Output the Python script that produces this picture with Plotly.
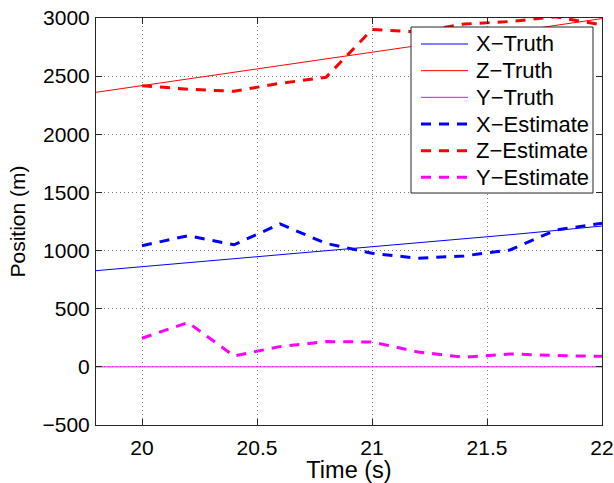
import plotly.graph_objects as go

# Time samples (s)
t_truth = [19.8, 20.0, 20.2, 20.4, 20.6, 20.8, 21.0, 21.2, 21.4, 21.6, 21.8, 22.0]
t_est = [20.0, 20.2, 20.4, 20.6, 20.8, 21.0, 21.2, 21.4, 21.6, 21.8, 22.0]

# True positions (m)
x_truth = [827, 861, 895, 929, 962, 996, 1030, 1065, 1100, 1136, 1173, 1211]
z_truth = [2361, 2418, 2474, 2530, 2587, 2645, 2705, 2762, 2820, 2878, 2937, 2995]
y_truth = [0, 0, 0, 0, 0, 0, 0, 0, 0, 0, 0, 0]

# Estimated positions (m)
x_est = [1042, 1128, 1050, 1229, 1062, 977, 934, 954, 1005, 1177, 1235]
z_est = [2418, 2387, 2370, 2438, 2490, 2901, 2880, 2948, 2970, 3010, 2940]
y_est = [246, 382, 94, 174, 217, 214, 128, 82, 111, 97, 91]

BLUE = "#0000FF"
RED = "#FF0000"
MAGENTA = "#FF00FF"
FONT = "Liberation Sans, Arial, Helvetica, sans-serif"
DASH = "10px,8px"

series = [
    ("X\u2212Truth", t_truth, x_truth, BLUE, 1, "solid"),
    ("Z\u2212Truth", t_truth, z_truth, RED, 1, "solid"),
    ("Y\u2212Truth", t_truth, y_truth, MAGENTA, 1, "solid"),
    ("X\u2212Estimate", t_est, x_est, BLUE, 3, DASH),
    ("Z\u2212Estimate", t_est, z_est, RED, 3, DASH),
    ("Y\u2212Estimate", t_est, y_est, MAGENTA, 3, DASH),
]

W, H = 614, 483
ML, MR, MT, MB = 96, 12, 18, 58
PW, PH = W - ML - MR, H - MT - MB


def px_x(p):
    return (p - ML) / PW


def px_y(p):
    return (H - MB - p) / PH


fig = go.Figure()
for name, tx, vals, color, width, dash in series:
    fig.add_trace(go.Scatter(x=tx, y=vals, mode="lines", name=name, showlegend=False,
                             line=dict(color=color, width=width, dash=dash)))

# Compact boxed legend in the upper right of the axes
shapes = [dict(type="rect", xref="paper", yref="paper", layer="above",
               x0=px_x(411), x1=px_x(593), y0=px_y(193), y1=px_y(27),
               fillcolor="white", line=dict(color="#262626", width=1))]
annotations = []
row0, row_step = 44.0, 26.67
for i, (name, _, _, color, width, dash) in enumerate(series):
    yy = px_y(row0 + i * row_step)
    shapes.append(dict(type="line", xref="paper", yref="paper", layer="above",
                       x0=px_x(421), x1=px_x(468), y0=yy, y1=yy,
                       line=dict(color=color, width=width, dash=dash)))
    annotations.append(dict(xref="paper", yref="paper", x=px_x(474), y=yy,
                            xanchor="left", yanchor="middle", showarrow=False,
                            text=name, font=dict(family=FONT, size=22, color="black")))

axis_common = dict(
    showline=True, linecolor="#262626", linewidth=1, mirror="ticks",
    ticks="inside", ticklen=6, tickcolor="#262626", tickwidth=1,
    showgrid=True, gridcolor="#7a7a7a", gridwidth=1, griddash="1px,3px",
    zeroline=False, automargin=False,
    tickfont=dict(family=FONT, size=21, color="black"),
)

fig.update_layout(
    width=W, height=H,
    margin=dict(l=ML, r=MR, t=MT, b=MB),
    paper_bgcolor="white", plot_bgcolor="white",
    font=dict(family=FONT, color="black"),
    xaxis=dict(range=[19.8, 22], tick0=20, dtick=0.5, ticklabelstandoff=4,
               title=dict(text="Time (s)", font=dict(family=FONT, size=23.5), standoff=4),
               **axis_common),
    yaxis=dict(range=[-500, 3000], tick0=-500, dtick=500, ticklabelstandoff=1,
               title=dict(text="Position (m)", font=dict(family=FONT, size=21), standoff=11),
               **axis_common),
    shapes=shapes,
    annotations=annotations,
    showlegend=False,
)

fig.write_html("out.html")
